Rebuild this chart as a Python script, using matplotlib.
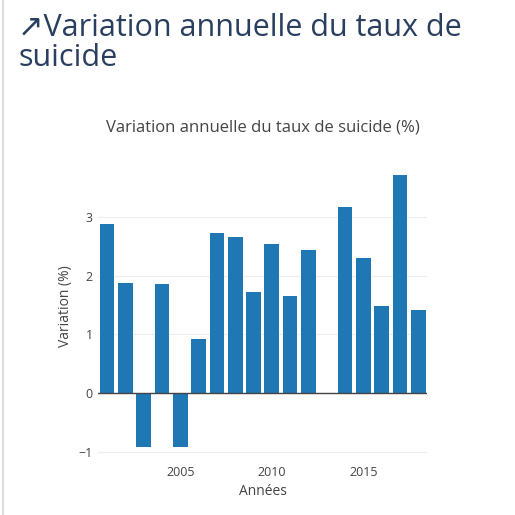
import matplotlib.pyplot as plt

plt.rcParams['font.family'] = ['Open Sans', 'DejaVu Sans']

annees = list(range(2001, 2019))
variation = [2.87, 1.87, -0.92, 1.85, -0.92, 0.92, 2.72, 2.65, 1.72, 2.54,
             1.65, 2.43, 0.0, 3.17, 2.30, 1.49, 3.70, 1.42]

fig = plt.figure(figsize=(5.15, 5.15), dpi=100)
fig.text(0.035, 0.975, "↗Variation annuelle du taux de\nsuicide", fontsize=22,
         color="#2a3f5f", va="top", ha="left", linespacing=1.0)
fig.add_artist(plt.Line2D([0.006, 0.006], [0, 1], color="#dddddd", lw=1.5))

ax = fig.add_axes([0.19, 0.105, 0.64, 0.6])
ax.bar(annees, variation, width=0.8, color="#1f77b4", zorder=3)
ax.set_xlim(2000.5, 2018.5)
ax.set_ylim(-1.15, 4.1)
ax.set_yticks([-1, 0, 1, 2, 3])
ax.set_yticklabels(["−1", "0", "1", "2", "3"])
ax.set_xticks([2005, 2010, 2015])
ax.grid(axis="y", color="#eeeeee", zorder=0)
ax.axhline(0, color="#444444", lw=1, zorder=4)
for s in ax.spines.values():
    s.set_visible(False)
ax.tick_params(length=0, labelsize=9, colors="#444444")
ax.set_xlabel("Années", fontsize=10, color="#444444")
ax.set_ylabel("Variation (%)", fontsize=10, color="#444444")
fig.text(0.51, 0.745, "Variation annuelle du taux de suicide (%)", ha="center",
         fontsize=12, color="#444444")

fig.savefig("out.png", dpi=100)
